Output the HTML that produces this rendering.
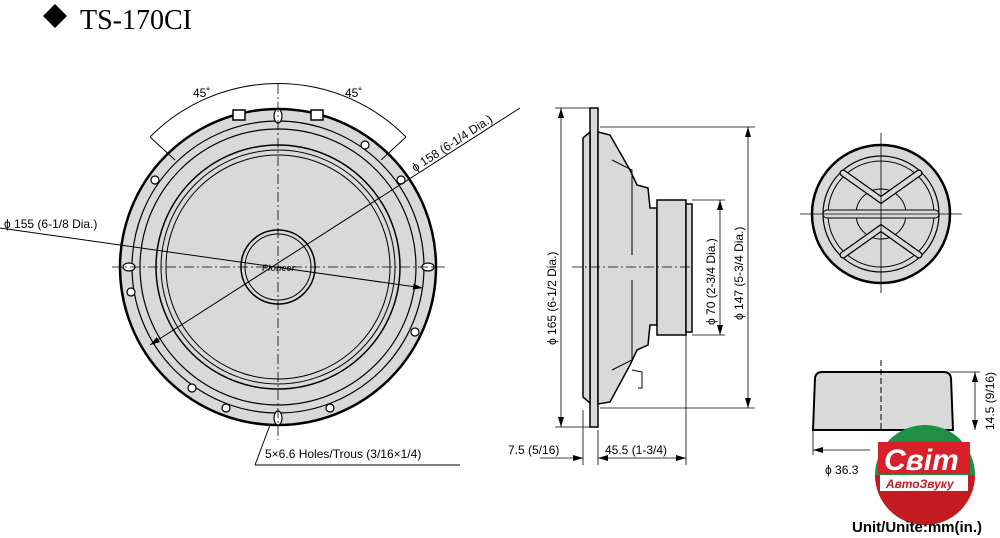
<!DOCTYPE html>
<html><head><meta charset="utf-8"><style>
html,body{margin:0;padding:0;background:#fff}
svg{display:block}
text{font-family:"Liberation Sans",Arial,sans-serif;font-size:12px;fill:#000}
</style></head><body>
<svg width="1000" height="538" viewBox="0 0 1000 538" xmlns="http://www.w3.org/2000/svg">
<defs>
<marker id="a" viewBox="0 0 10 6" refX="10" refY="3" markerWidth="10" markerHeight="6" orient="auto-start-reverse" markerUnits="userSpaceOnUse"><path d="M0 0 L10 3 L0 6 Z" fill="#000"/></marker>
</defs>
<!-- title -->
<polygon points="55,4 67,16 55,28 43,16" fill="#000"/>
<text x="80" y="29" style="font-family:'Liberation Serif',serif;font-size:28px">TS-170CI</text>

<!-- FRONT VIEW -->
<g stroke="#000" fill="#d9d9d9">
<circle cx="278" cy="267" r="158" stroke-width="2.5"/>
<circle cx="278" cy="267" r="146" stroke-width="1.2"/>
<circle cx="278" cy="267" r="138" stroke-width="1.2"/>
<circle cx="278" cy="267" r="122" stroke-width="1.5"/>
<circle cx="278" cy="267" r="117" stroke-width="1"/>
<circle cx="278" cy="267" r="112" stroke-width="1"/>
<circle cx="278" cy="267" r="37" stroke-width="1.5"/>
<circle cx="278" cy="267" r="33" stroke-width="1"/>
</g>
<g fill="#fff" stroke="#000" stroke-width="1.5">
<rect x="233" y="110" width="12" height="10"/><rect x="311" y="110" width="12" height="10"/>
</g>
<g fill="#fff" stroke="#000" stroke-width="1.2">
<ellipse cx="278" cy="116" rx="4" ry="7"/><ellipse cx="278" cy="418" rx="4" ry="7"/>
<ellipse cx="129" cy="267" rx="6" ry="4"/><ellipse cx="428" cy="267" rx="6" ry="4"/>
<circle cx="365" cy="145" r="4"/><circle cx="401" cy="180" r="4"/><circle cx="155" cy="180" r="4"/>
<circle cx="131" cy="292" r="4"/><circle cx="415" cy="332" r="4"/><circle cx="192" cy="388" r="4"/>
<circle cx="226" cy="408" r="4"/><circle cx="330" cy="408" r="4"/>
</g>
<text x="262" y="271" style="font-size:9px;font-style:italic;font-weight:bold;fill:#333">Pioneer</text>
<g stroke="#000" stroke-width="0.8" stroke-dasharray="10,3,2,3">
<line x1="278" y1="84" x2="278" y2="440"/><line x1="112" y1="267" x2="445" y2="267"/>
</g>
<path d="M150 137 A180 180 0 0 1 406 137" fill="none" stroke="#000" stroke-width="1"/>
<line x1="150" y1="137" x2="175" y2="160" stroke="#000"/><line x1="406" y1="137" x2="381" y2="160" stroke="#000"/>
<text x="193" y="97">45˚</text><text x="345" y="97">45˚</text>
<line x1="0" y1="228" x2="423" y2="288" stroke="#000" marker-end="url(#a)"/>
<line x1="150" y1="345" x2="520" y2="108" stroke="#000" marker-start="url(#a)"/>
<text x="4" y="228">ϕ 155 (6-1/8 Dia.)</text>
<text x="415" y="172" transform="rotate(-33 415 172)">ϕ 158 (6-1/4 Dia.)</text>
<line x1="270" y1="425" x2="255" y2="465" stroke="#000"/>
<line x1="255" y1="465" x2="460" y2="465" stroke="#000"/>
<text x="265" y="458">5×6.6 Holes/Trous (3/16×1/4)</text>

<!-- SIDE VIEW -->
<g stroke="#000" stroke-width="1.5" fill="#d9d9d9">
<path d="M590 108 H598 V427 H590 Z"/>
<path d="M583 138 L590 132 V403 L583 397 Z"/>
<path d="M598 132 L610 135 L630 170 L637 185 L648 188 L650 208 L657 208 V325 L650 325 L648 345 L637 350 L630 365 L610 402 L598 404 Z"/>
<path d="M657 200 H686 V335 H657 Z"/>
<path d="M686 204 H692 V332 H686 Z"/>
</g>
<g stroke="#000" fill="none" stroke-width="1">
<path d="M612 160 L632 170 V255 M612 370 L632 360 V280"/>
<path d="M632 370 L642 372 V388 L638 388" />
</g>
<line x1="572" y1="267" x2="690" y2="267" stroke="#000" stroke-dasharray="10,3,2,3" stroke-width="0.8"/>
<g stroke="#000" stroke-width="0.8" fill="none">
<line x1="555" y1="108" x2="590" y2="108"/><line x1="555" y1="427" x2="590" y2="427"/>
<line x1="561" y1="108" x2="561" y2="427" marker-start="url(#a)" marker-end="url(#a)"/>
<line x1="600" y1="127" x2="755" y2="127"/><line x1="600" y1="408" x2="755" y2="408"/>
<line x1="748" y1="127" x2="748" y2="408" marker-start="url(#a)" marker-end="url(#a)"/>
<line x1="692" y1="200" x2="725" y2="200"/><line x1="692" y1="335" x2="725" y2="335"/>
<line x1="720" y1="200" x2="720" y2="335" marker-start="url(#a)" marker-end="url(#a)"/>
<line x1="583" y1="410" x2="583" y2="465"/><line x1="598" y1="430" x2="598" y2="465"/>
<line x1="686" y1="335" x2="686" y2="465"/>
<line x1="540" y1="458" x2="583" y2="458" marker-end="url(#a)"/><line x1="598" y1="458" x2="686" y2="458" marker-start="url(#a)" marker-end="url(#a)"/>
</g>
<text transform="translate(556 345) rotate(-90)">ϕ 165 (6-1/2 Dia.)</text>
<text transform="translate(715 325) rotate(-90)">ϕ 70 (2-3/4 Dia.)</text>
<text transform="translate(743 320) rotate(-90)">ϕ 147 (5-3/4 Dia.)</text>
<text x="508" y="454">7.5 (5/16)</text>
<text x="605" y="454">45.5 (1-3/4)</text>

<!-- TWEETER FRONT -->
<g stroke="#000" fill="#d9d9d9">
<circle cx="881" cy="214" r="69" stroke-width="2.5"/>
<circle cx="881" cy="214" r="58" stroke-width="1.2"/>
<circle cx="881" cy="214" r="53" stroke-width="1"/>
<circle cx="881" cy="214" r="25" stroke-width="1"/>
</g>
<g stroke="#000" stroke-width="7" stroke-linecap="round" fill="none"><path d="M843 173 L881 200 L919 173 M843 255 L881 228 L919 255"/></g>
<g stroke="#d9d9d9" stroke-width="4.5" stroke-linecap="round" fill="none"><path d="M843 173 L881 200 L919 173 M843 255 L881 228 L919 255"/></g>
<rect x="823" y="210" width="116" height="8" rx="4" fill="#d9d9d9" stroke="#000"/>
<g stroke="#000" stroke-width="0.8"><line x1="881" y1="133" x2="881" y2="293"/><line x1="800" y1="214" x2="962" y2="214"/></g>

<!-- TWEETER SIDE -->
<path d="M813 430 L815 378 Q816 372 822 372 H944 Q950 372 951 378 L953 430 Z" fill="#d9d9d9" stroke="#000" stroke-width="2"/>
<line x1="881" y1="360" x2="881" y2="430" stroke="#000" stroke-dasharray="6,3"/>
<g stroke="#000" stroke-width="0.8"><line x1="950" y1="372" x2="980" y2="372"/><line x1="975" y1="372" x2="975" y2="430" marker-start="url(#a)" marker-end="url(#a)"/><line x1="813" y1="430" x2="813" y2="455"/><line x1="813" y1="450" x2="870" y2="450" marker-start="url(#a)"/></g>
<text transform="translate(994 430) rotate(-90)">14.5 (9/16)</text>
<text x="825" y="474">ϕ 36.3</text>
<!-- logo -->
<circle cx="925" cy="475" r="50" fill="#1f8f44"/>
<path d="M875 475 A50 50 0 0 0 975 475 Z" fill="#c41a22"/>
<rect x="878" y="442" width="92" height="32" fill="#d8202a"/>
<text x="884" y="470" style="font-size:30px;font-weight:bold;font-style:italic;fill:#fff">Світ</text>
<rect x="880" y="475" width="88" height="16" fill="#fff"/>
<text x="886" y="488" style="font-size:12px;font-style:italic;font-weight:bold;fill:#c41a22">АвтоЗвуку</text>
<text x="852" y="532" style="font-size:15px;font-weight:bold">Unit/Unite:mm(in.)</text>
</svg>
</body></html>
